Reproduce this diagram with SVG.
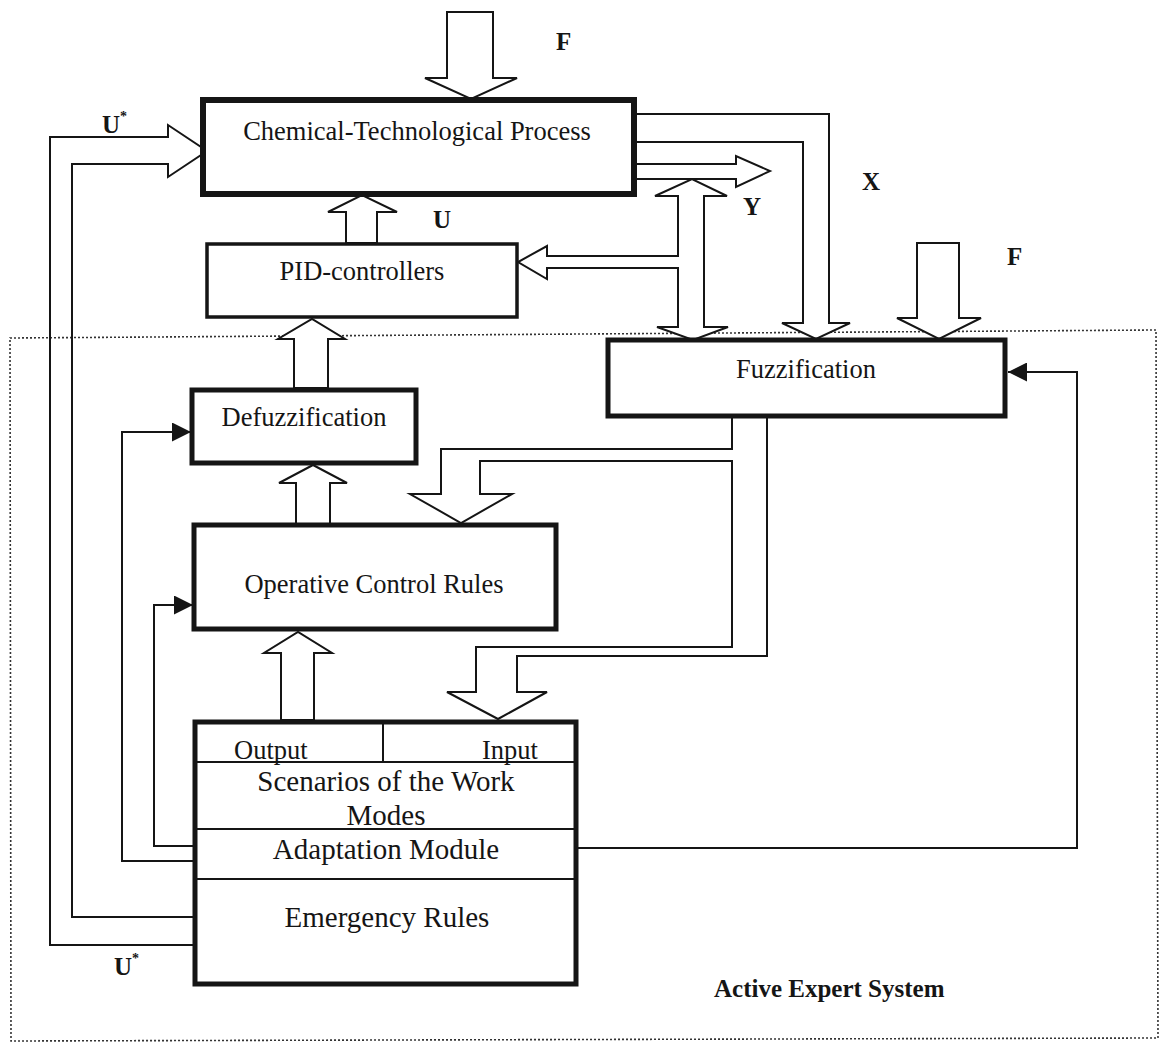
<svg xmlns="http://www.w3.org/2000/svg" width="1162" height="1044" viewBox="0 0 1162 1044">
<defs>
<style>
.box{fill:#fff;stroke:#151515;stroke-width:5}
.thin{fill:none;stroke:#151515;stroke-width:2}
.blk{fill:#fff;stroke:#151515;stroke-width:2;stroke-linejoin:miter}
.line{fill:none;stroke:#151515;stroke-width:2}
.t{font-family:"Liberation Serif","Times New Roman",serif;font-size:26.5px;fill:#151515}
.m{font-family:"Liberation Serif","Times New Roman",serif;font-size:29px;fill:#151515;text-anchor:middle}
.b{font-family:"Liberation Serif","Times New Roman",serif;font-size:25px;font-weight:bold;fill:#151515}
.frame{fill:none;stroke:#333;stroke-width:1.6;stroke-dasharray:2 2}
</style>
<marker id="tri" markerUnits="userSpaceOnUse" markerWidth="19" markerHeight="19" refX="19" refY="9.5" orient="auto">
<path d="M0,0 L19,9.5 L0,19 Z" fill="#151515"/>
</marker>
</defs>
<rect width="1162" height="1044" fill="#fff"/>

<path class="frame" d="M10,338 L1156,330 L1158,1038 L11,1041 Z"/>

<g id="connectors">
<polygon class="blk" points="447,12 493,12 493,78 517,78 471,99 425,78 447,78"/>
<path class="line" d="M193,917 L72,917 L72,164 L168,164 L168,177 L207,151 L168,125 L168,137 L50,137 L50,945 L193,945"/>
<polygon class="blk" points="346,243 346,212 328,212 362,195 397,212 377,212 377,243"/>
<polygon class="blk" points="294,388 294,339 278,339 312,319 345,339 328,339 328,388"/>
<polygon class="blk" points="296,524 296,483 279,483 313,465 347,483 330,483 330,524"/>
<polygon class="blk" points="281,720 281,653 264,653 298,632 332,653 314,653 314,720"/>
<path class="blk" d="M637,114 L829,114 L829,323 L850,323 L816,339 L782,323 L803,323 L803,142 L637,142"/>
<path class="blk" d="M637,164 L736,164 L736,156 L770,171 L736,187 L736,179 L637,179"/>
<polygon class="blk" points="678,256 678,196 655,196 692,179 727,196 704,196 704,327 728,327 693,340 657,327 678,327 678,268 547,268 547,279 518,262 547,246 547,256"/>
<polygon class="blk" points="917,243 959,243 959,318 981,318 939,339 897,318 917,318"/>
<polygon class="blk" points="732,417 732,449 441,449 441,494 410,494 461,523 512,494 480,494 480,461 732,461 732,647 476,647 476,692 447,692 498,719 547,692 517,692 517,656 767,656 767,417"/>
<path class="line" d="M193,861 L122,861 L122,432 L191,432" marker-end="url(#tri)"/>
<path class="line" d="M193,846 L154,846 L154,605 L193,605" marker-end="url(#tri)"/>
<path class="line" d="M578,848 L1077,848 L1077,372 L1008,372" marker-end="url(#tri)"/>
</g>

<g id="ctp">
<rect class="box" x="203" y="100" width="431" height="94" style="stroke-width:6"/>
<text class="t" x="417" y="140" text-anchor="middle">Chemical-Technological Process</text>
</g>

<g id="pid">
<rect class="box" x="207" y="244" width="310" height="73" style="stroke-width:3.5"/>
<text class="t" x="362" y="280" text-anchor="middle">PID-controllers</text>
</g>

<g id="defuzz">
<rect class="box" x="192" y="390" width="224" height="73"/>
<text class="t" x="304" y="426" text-anchor="middle">Defuzzification</text>
</g>

<g id="operative">
<rect class="box" x="194" y="525" width="362" height="104"/>
<text class="t" x="374" y="593" text-anchor="middle">Operative Control Rules</text>
</g>

<g id="fuzz">
<rect class="box" x="608" y="340" width="397" height="76"/>
<text class="t" x="806" y="378" text-anchor="middle">Fuzzification</text>
</g>

<g id="module">
<rect class="box" x="195" y="722" width="381" height="262"/>
<line class="thin" x1="383" y1="722" x2="383" y2="762"/>
<line class="thin" x1="195" y1="762" x2="576" y2="762"/>
<line class="thin" x1="195" y1="829" x2="576" y2="829"/>
<line class="thin" x1="195" y1="879" x2="576" y2="879"/>
<text class="t" x="234" y="759">Output</text>
<text class="t" x="482" y="759">Input</text>
<text class="m" x="386" y="791">Scenarios of the Work</text>
<text class="m" x="386" y="825">Modes</text>
<text class="m" x="386" y="859">Adaptation Module</text>
<text class="m" x="387" y="927">Emergency Rules</text>
</g>

<g id="labels">
<text class="b" x="556" y="50">F</text>
<text class="b" x="433" y="228">U</text>
<text class="b" x="743" y="215">Y</text>
<text class="b" x="862" y="190">X</text>
<text class="b" x="1007" y="265">F</text>
<text class="b" x="102" y="133">U<tspan font-size="14" dy="-12">*</tspan></text>
<text class="b" x="114" y="975">U<tspan font-size="14" dy="-12">*</tspan></text>
<text class="b" x="714" y="997">Active Expert System</text>
</g>
</svg>
